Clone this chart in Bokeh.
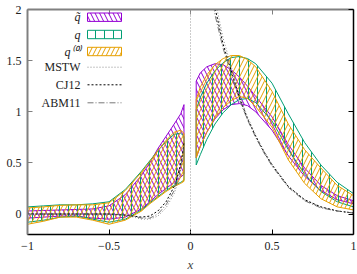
import numpy as np
from bokeh.plotting import figure
from bokeh.models import Range1d, LinearAxis, FixedTicker, Span, Label, BoxAnnotation, Arrow
from bokeh.embed import file_html
from bokeh.resources import INLINE

# ---------------- data ----------------
x_left = [-1.0, -0.9, -0.8, -0.7, -0.6, -0.5, -0.4, -0.3, -0.25, -0.2, -0.15, -0.1, -0.06, -0.04]
qt_left_up = [0.03, 0.035, 0.04, 0.045, 0.05, 0.08, 0.19, 0.38, 0.50, 0.64, 0.76, 0.88, 0.98, 1.07]
qt_left_lo = [-0.04, -0.03, -0.02, -0.02, -0.04, -0.05, -0.03, 0.05, 0.12, 0.19, 0.25, 0.31, 0.36, 0.39]
q_left_up = [0.07, 0.08, 0.09, 0.09, 0.10, 0.12, 0.24, 0.42, 0.52, 0.62, 0.71, 0.78, 0.79, 0.76]
q_left_lo = [-0.08, -0.06, -0.03, -0.02, -0.05, -0.08, -0.05, 0.04, 0.11, 0.17, 0.23, 0.28, 0.31, 0.33]
q0_left_up = [0.06, 0.07, 0.085, 0.09, 0.09, 0.11, 0.23, 0.41, 0.51, 0.62, 0.72, 0.80, 0.82, 0.79]
q0_left_lo = [-0.10, -0.07, -0.03, -0.03, -0.06, -0.10, -0.06, 0.03, 0.10, 0.16, 0.22, 0.27, 0.30, 0.32]

x_right = [0.035, 0.06, 0.1, 0.15, 0.2, 0.25, 0.3, 0.35, 0.4, 0.5, 0.6, 0.7, 0.8, 0.9, 1.0]
qt_right_up = [1.30, 1.38, 1.44, 1.47, 1.46, 1.41, 1.34, 1.25, 1.15, 0.95, 0.68, 0.45, 0.28, 0.18, 0.13]
qt_right_lo = [0.55, 0.66, 0.80, 0.93, 1.02, 1.07, 1.08, 1.06, 1.00, 0.82, 0.57, 0.37, 0.23, 0.14, 0.10]
q_right_up = [1.02, 1.14, 1.28, 1.40, 1.48, 1.53, 1.54, 1.52, 1.47, 1.28, 0.98, 0.70, 0.48, 0.31, 0.20]
q_right_lo = [0.48, 0.58, 0.73, 0.88, 0.99, 1.07, 1.12, 1.13, 1.09, 0.91, 0.63, 0.39, 0.22, 0.12, 0.07]
q0_right_up = [1.12, 1.24, 1.36, 1.46, 1.52, 1.55, 1.55, 1.51, 1.44, 1.20, 0.88, 0.63, 0.45, 0.28, 0.18]
q0_right_lo = [0.55, 0.66, 0.80, 0.94, 1.04, 1.11, 1.15, 1.13, 1.05, 0.85, 0.53, 0.30, 0.15, 0.07, 0.04]

xc_left = [-1.0, -0.8, -0.6, -0.5, -0.4, -0.35, -0.3, -0.25, -0.2, -0.15, -0.1, -0.07, -0.05, -0.04]
mstw_left = [0, 0, 0, 0, -0.01, -0.03, -0.05, -0.05, -0.02, 0.06, 0.20, 0.35, 0.52, 0.65]
cj12_left = [0, 0, 0, 0, -0.01, -0.02, -0.03, -0.02, 0.03, 0.12, 0.27, 0.42, 0.58, 0.70]
abm11_left = [0, 0, 0, 0, -0.01, -0.02, -0.04, -0.04, 0.00, 0.09, 0.23, 0.38, 0.55, 0.67]

xc_right = [0.04, 0.06, 0.08, 0.1, 0.125, 0.15, 0.2, 0.25, 0.3, 0.35, 0.4, 0.45, 0.5, 0.6, 0.7, 0.8, 0.9, 1.0]
mstw_right = [4.6, 3.9, 3.3, 2.85, 2.45, 2.10, 1.72, 1.44, 1.17, 0.95, 0.77, 0.62, 0.49, 0.27, 0.14, 0.07, 0.03, 0.01]
cj12_right = [4.5, 3.8, 3.2, 2.75, 2.35, 2.02, 1.66, 1.40, 1.14, 0.93, 0.76, 0.61, 0.48, 0.27, 0.14, 0.07, 0.03, 0.01]
abm11_right = [4.4, 3.7, 3.1, 2.65, 2.27, 1.95, 1.62, 1.37, 1.12, 0.92, 0.75, 0.60, 0.47, 0.26, 0.13, 0.06, 0.03, 0.01]

x_ticks = [-1, -0.5, 0, 0.5, 1]
y_ticks = [0, 0.5, 1, 1.5, 2]

PURPLE, GREEN, ORANGE = "#9400D3", "#009E73", "#E69F00"
SERIF = "Liberation Serif"

# ---------------- figure ----------------
p = figure(width=357, height=274, output_backend="svg", toolbar_location=None,
           x_range=Range1d(-1, 1), y_range=Range1d(-0.2, 2),
           min_border_left=27, min_border_right=4, min_border_top=9, min_border_bottom=35)
p.grid.visible = False
p.outline_line_color = None
p.background_fill_color = "white"
below = p.below[0]
left = p.left[0]


def band(xs, up, lo, color, pattern):
    px = list(xs) + list(xs)[::-1]
    py = list(up) + list(lo)[::-1]
    p.patch(px, py, fill_alpha=0, line_color=color, line_width=1,
            hatch_pattern=pattern, hatch_color=color, hatch_scale=9, hatch_weight=1)


band(x_left, qt_left_up, qt_left_lo, PURPLE, "\\")
band(x_right, qt_right_up, qt_right_lo, PURPLE, "\\")
band(x_left, q_left_up, q_left_lo, GREEN, "|")
band(x_right, q_right_up, q_right_lo, GREEN, "|")
band(x_left, q0_left_up, q0_left_lo, ORANGE, "/")
band(x_right, q0_right_up, q0_right_lo, ORANGE, "/")

styles = {
    "MSTW": dict(line_color="#707070", line_dash="1 2", line_width=0.8),
    "CJ12": dict(line_color="black", line_dash="2 2", line_width=1),
    "ABM11": dict(line_color="#555555", line_dash="6 2 1 2", line_width=0.8),
}
p.line(xc_left, mstw_left, **styles["MSTW"])
p.line(xc_right, mstw_right, **styles["MSTW"])
p.line(xc_left, cj12_left, **styles["CJ12"])
p.line(xc_right, cj12_right, **styles["CJ12"])
p.line(xc_left, abm11_left, **styles["ABM11"])
p.line(xc_right, abm11_right, **styles["ABM11"])

p.add_layout(Span(location=0, dimension="height", line_color="#999999",
                  line_dash="1 2", line_width=1))

# ---------------- axes ----------------
above = LinearAxis()
right = LinearAxis()
p.add_layout(above, "above")
p.add_layout(right, "right")

for ax, color, w in [(below, "black", 1.5), (left, "#808080", 2),
                     (above, "#808080", 2), (right, "black", 1.5)]:
    ax.axis_line_color = color
    ax.axis_line_width = w
    ax.major_tick_in = 5
    ax.major_tick_out = 0
    ax.major_tick_line_color = color
    ax.major_tick_line_width = 1
    ax.minor_tick_line_color = None
    ax.major_label_text_font = SERIF
    ax.major_label_text_font_size = "12px"
    ax.major_label_text_color = "#222222"

below.ticker = FixedTicker(ticks=x_ticks)
above.ticker = FixedTicker(ticks=x_ticks)
left.ticker = FixedTicker(ticks=y_ticks)
right.ticker = FixedTicker(ticks=y_ticks)
for ax in (above, right):
    ax.major_label_text_alpha = 0
    ax.major_label_text_font_size = "1px"
    ax.major_label_standoff = 0
below.major_label_standoff = 7
left.major_label_standoff = 6
below.axis_label = "x"
below.axis_label_text_font = SERIF
below.axis_label_text_font_style = "italic"
below.axis_label_text_font_size = "13px"
below.axis_label_standoff = 4

# ---------------- key (screen units: from frame left / frame bottom) ----------------
rows = [217.3, 200, 183, 167.3, 149.7, 131.7]
labels = ["q\u0303", "q", "q\u207D\u2070\u207E", "MSTW", "CJ12", "ABM11"]
for i, (lab, ry) in enumerate(zip(labels, rows)):
    italic = i < 3
    p.add_layout(Label(x=53, y=ry, x_units="screen", y_units="screen", text=lab,
                       text_align="right", text_baseline="middle",
                       text_font=SERIF, text_font_size="12px",
                       text_font_style="italic" if italic else "normal",
                       text_color="#222222"))
for ry, color, pat in zip(rows[:3], [PURPLE, GREEN, ORANGE], ["\\", "|", "/"]):
    p.add_layout(BoxAnnotation(left=60, right=94, top=ry + 4.2, bottom=ry - 4.2,
                               left_units="screen", right_units="screen",
                               top_units="screen", bottom_units="screen",
                               fill_alpha=0, line_color=color, line_width=1, line_alpha=1,
                               hatch_pattern=pat, hatch_color=color, hatch_scale=9))
for ry, name in zip(rows[3:], ["MSTW", "CJ12", "ABM11"]):
    p.add_layout(Arrow(x_start=60, y_start=ry, x_end=94, y_end=ry,
                       start_units="screen", end_units="screen", end=None,
                       **styles[name]))

open("out.html", "w").write(file_html(p, INLINE))
